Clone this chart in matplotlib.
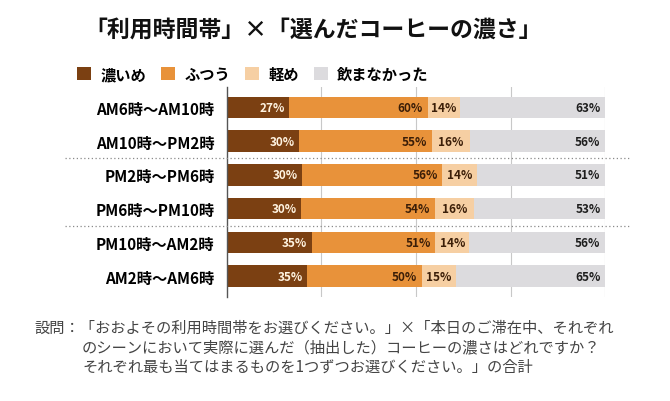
import numpy as np
import matplotlib.pyplot as plt
from matplotlib.transforms import blended_transform_factory

plt.rcParams['font.family'] = ['Noto Sans CJK JP', 'DejaVu Sans']

# data
time_slots = ['AM6時～AM10時', 'AM10時～PM2時', 'PM2時～PM6時',
              'PM6時～PM10時', 'PM10時～AM2時', 'AM2時～AM6時']
strong = [27, 30, 30, 30, 35, 35]
normal = [60, 55, 56, 54, 51, 50]
light = [14, 16, 14, 16, 14, 15]
none_ = [63, 56, 51, 53, 56, 65]
series_names = ['濃いめ', 'ふつう', '軽め', '飲まなかった']
colors = ['#7b4012', '#e8923a', '#f6cfa3', '#dcdbde']
label_colors = ['#fff3e0', '#3b1e08', '#3b1e08', '#1e1e1e']

title = '「利用時間帯」×「選んだコーヒーの濃さ」'
note_lines = [
    '設問：「おおよその利用時間帯をお選びください。」×「本日のご滞在中、それぞれ',
    'のシーンにおいて実際に選んだ（抽出した）コーヒーの濃さはどれですか？',
    'それぞれ最も当てはまるものを1つずつお選びください。」の合計',
]

vals = np.array([strong, normal, light, none_], dtype=float)
frac = vals / vals.sum(axis=0)

fig = plt.figure(figsize=(6.7, 4.02), dpi=100)
ax = fig.add_axes([0.3388, 0.2587, 0.5642, 0.5224])

y = np.arange(len(time_slots))
left = np.zeros(len(time_slots))
for k in range(4):
    ax.barh(y, frac[k], left=left, height=0.64, color=colors[k],
            label=series_names[k], zorder=2)
    for i in range(len(time_slots)):
        txt = f'{int(vals[k, i])}%'
        if k == 2:
            ax.text(left[i] + frac[k, i] / 2, y[i], txt, ha='center', va='center',
                    fontsize=8.5, fontweight='bold', color=label_colors[k], zorder=3)
        else:
            ax.text(left[i] + frac[k, i] - 0.012, y[i], txt, ha='right', va='center',
                    fontsize=8.5, fontweight='bold', color=label_colors[k], zorder=3)
    left = left + frac[k]

ax.set_xlim(0, 1)
ax.set_ylim(5.62, -0.61)
ax.set_yticks(y)
ax.set_yticklabels(time_slots, fontsize=11, fontweight='bold')
ax.tick_params(axis='y', length=0, pad=9)
ax.set_xticks([0.25, 0.5, 0.75, 1.0])
ax.tick_params(axis='x', length=0, labelbottom=False)
ax.grid(axis='x', color='#c8c8c8', linewidth=0.8, zorder=0)
for s in ['top', 'right', 'bottom']:
    ax.spines[s].set_visible(False)
ax.spines['left'].set_color('#555555')
ax.spines['left'].set_linewidth(1.0)

# dotted separators spanning beyond the axes
trans = blended_transform_factory(fig.transFigure, ax.transData)
for sep in [1.5, 3.5]:
    ax.plot([65 / 670, 630 / 670], [sep, sep], transform=trans, clip_on=False,
            color='#8a8a8a', linestyle=(0, (1, 2)), linewidth=0.9, zorder=4)

fig.text(0.468, 1 - 30 / 402, title, ha='center', va='center',
         fontsize=16.5, fontweight='bold', color='#111111')

handles, labels = ax.get_legend_handles_labels()
fig.legend(handles, labels, loc='center left', bbox_to_anchor=(0.095, 1 - 75 / 402),
           ncol=4, frameon=False, handlelength=0.9, handleheight=0.9,
           handletextpad=0.6, columnspacing=1.0, prop={'size': 11, 'weight': 'bold'})

fig.text(34 / 670, 1 - 328 / 402, note_lines[0], ha='left', va='center',
         fontsize=11, color='#444444')
fig.text(82 / 670, 1 - 348 / 402, note_lines[1], ha='left', va='center',
         fontsize=11, color='#444444')
fig.text(82 / 670, 1 - 367 / 402, note_lines[2], ha='left', va='center',
         fontsize=11, color='#444444')

fig.savefig('out.png', dpi=100, facecolor='white')
